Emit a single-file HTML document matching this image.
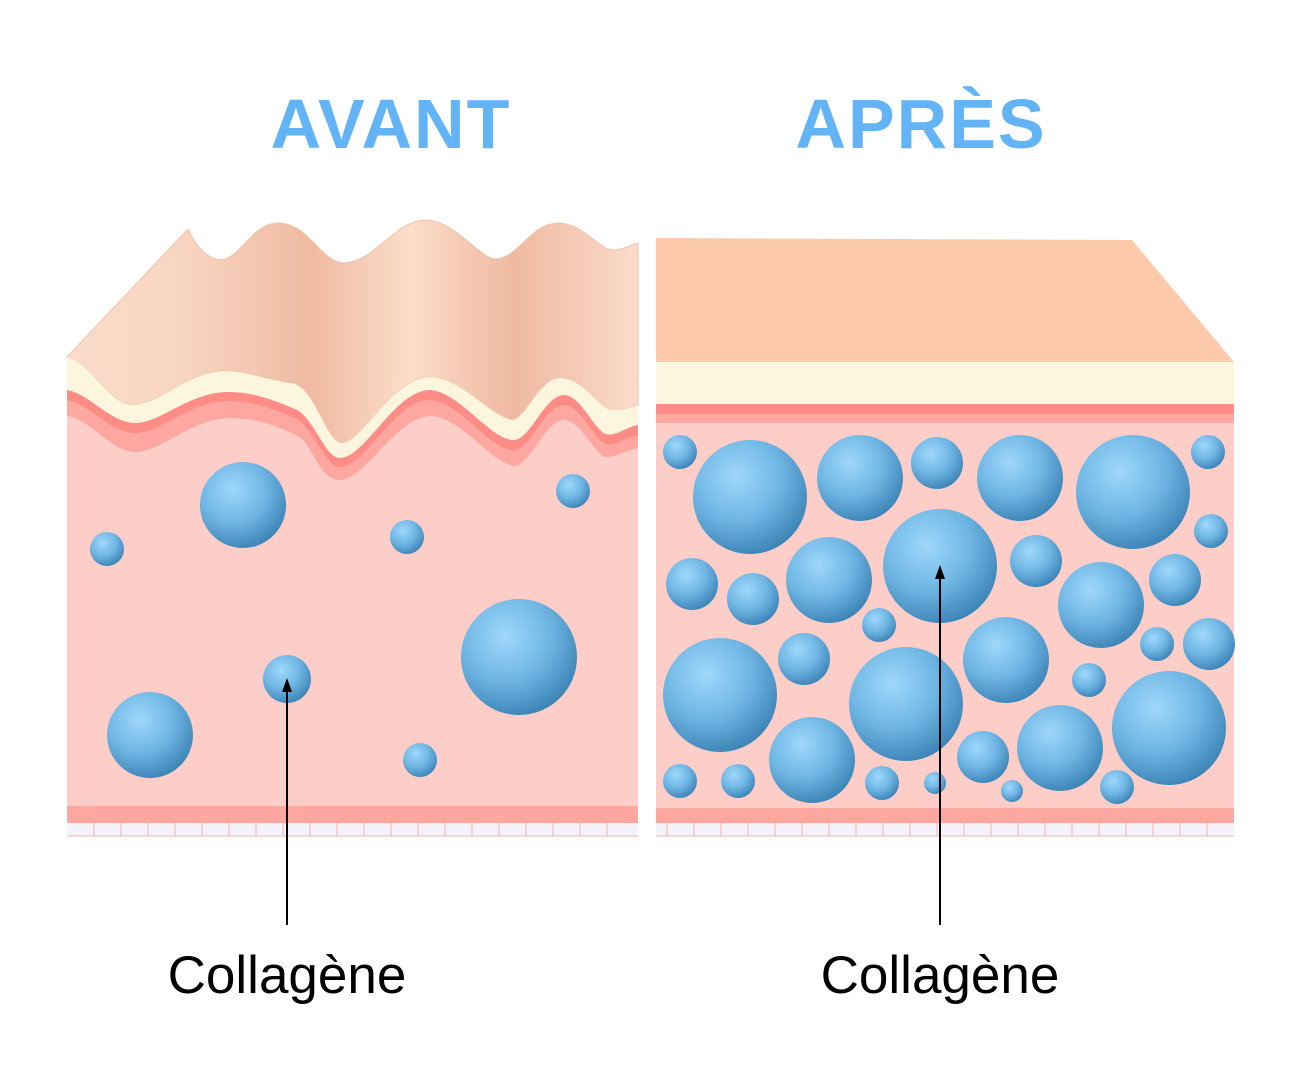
<!DOCTYPE html>
<html><head><meta charset="utf-8"><style>html,body{margin:0;padding:0;background:#fff}svg{display:block}</style></head><body>
<svg width="1300" height="1080" viewBox="0 0 1300 1080" xmlns="http://www.w3.org/2000/svg">
<defs>
<radialGradient id="b" cx="0.38" cy="0.32" r="0.7">
<stop offset="0" stop-color="#9fd8fb"/><stop offset="0.55" stop-color="#6fb6e4"/><stop offset="1" stop-color="#3e86b8"/>
</radialGradient>
<linearGradient id="skin" x1="0" x2="1" y1="0" y2="0">
<stop offset="0" stop-color="#fbdcca"/><stop offset="0.2" stop-color="#f8d5c2"/><stop offset="0.43" stop-color="#efbaa2"/><stop offset="0.6" stop-color="#fcddc9"/><stop offset="0.78" stop-color="#efb9a1"/><stop offset="1" stop-color="#fbdccb"/>
</linearGradient>
</defs>
<text x="391" y="148" text-anchor="middle" font-family="Liberation Sans, sans-serif" font-weight="bold" font-size="70" letter-spacing="2" fill="#63b3f7">AVANT</text>
<text x="921" y="148" text-anchor="middle" font-family="Liberation Sans, sans-serif" font-weight="bold" font-size="70" letter-spacing="2" fill="#63b3f7">APRÈS</text>

<!-- LEFT -->
<rect x="67" y="380" width="571" height="456" fill="#fdcdc8"/>
<path d="M67,357 L188,229 C200,255 215,262 226,259 C245,250 255,222 279,223 C310,224 320,262 344,263 C375,262 395,220 426,220 C455,221 480,258 495,259 C520,258 530,222 560,223 C585,224 600,252 615,250 C625,249 630,245 638,243 L638,405 C625,410 612,412 606,408 C590,395 578,378 560,378 C540,378 525,420 512,420 C490,416 460,377 430,377 C390,380 362,443 342,443 C325,443 315,383 289,383 C260,378 245,371 224,371 C185,373 160,405 132,405 C110,405 90,362 67,357 Z" fill="url(#skin)" stroke="#f3c3a8" stroke-width="1"/>
<path d="M67,357 C90,362 110,405 132,405 C160,405 185,373 224,371 C245,371 260,378 289,383 C315,383 325,443 342,443 C362,443 390,380 430,377 C460,377 490,416 512,420 C525,420 540,378 560,378 C578,378 590,395 606,408 C612,412 625,410 638,405 L638,445 C625,447 612,440 602,432 C588,418 578,400 564,400 C545,400 530,445 514,445 C490,440 460,392 430,392 C395,395 365,470 340,470 C318,470 310,412 297,412 C270,398 250,396 228,396 C190,398 160,440 136,440 C110,440 90,400 67,396 Z" fill="#fdf6df"/>
<path d="M67,390 C90,394 110,423 136,423 C160,423 190,392 228,392 C250,392 270,398 297,410 C315,420 325,458 340,458 C365,458 395,390 430,390 C460,392 490,440 514,440 C530,440 545,395 564,395 C578,395 588,418 602,432 C612,440 625,427 638,425 L638,445 C625,447 612,452 602,448 C588,434 578,412 564,412 C545,412 530,458 514,458 C490,455 460,408 430,408 C395,410 365,472 340,472 C318,472 310,430 297,428 C270,414 250,410 228,410 C190,412 160,442 136,442 C110,442 90,410 67,408 Z" fill="#fd8b86"/>
<path d="M67,400 C90,404 110,433 136,433 C160,433 190,401 228,401 C250,401 270,407 297,419 C315,430 325,467 340,467 C365,467 395,400 430,400 C460,402 490,450 514,450 C530,450 545,405 564,405 C578,405 588,428 602,442 C612,450 625,437 638,435 L638,448 C625,450 612,460 602,456 C588,442 578,420 564,420 C545,420 530,466 514,466 C490,462 460,416 430,416 C395,418 365,480 340,480 C318,480 310,438 297,436 C270,422 250,418 228,418 C190,420 160,452 136,452 C110,452 90,418 67,416 Z" fill="#fea6a0"/>
<rect x="67" y="806" width="571" height="17" fill="#fea6a0"/>
<rect x="67" y="823" width="571" height="13" fill="#f4f2fb"/>
<line x1="67" y1="836" x2="638" y2="836" stroke="#f7b3a8"/>

<!-- RIGHT -->
<path d="M656,238 L1132,240 L1234,362 L656,362 Z" fill="#fccaab"/>
<rect x="656" y="362" width="578" height="42" fill="#fef7df"/>
<rect x="656" y="404" width="578" height="10" fill="#fd8b86"/>
<rect x="656" y="414" width="578" height="9" fill="#fea6a0"/>
<rect x="656" y="423" width="578" height="385" fill="#fdcdc8"/>
<rect x="656" y="808" width="578" height="15" fill="#fea6a0"/>
<rect x="656" y="823" width="578" height="13" fill="#f4f2fb"/>
<line x1="656" y1="836" x2="1234" y2="836" stroke="#f7b3a8"/>

<g stroke="#f7b3a8" stroke-width="1">
<path d="M94,823v13M121,823v13M148,823v13M175,823v13M202,823v13M229,823v13M256,823v13M283,823v13M310,823v13M337,823v13M364,823v13M391,823v13M418,823v13M445,823v13M472,823v13M499,823v13M526,823v13M553,823v13M580,823v13M607,823v13"/>
<path d="M667,823v13M694,823v13M721,823v13M748,823v13M775,823v13M802,823v13M829,823v13M856,823v13M883,823v13M910,823v13M937,823v13M964,823v13M991,823v13M1018,823v13M1045,823v13M1072,823v13M1099,823v13M1126,823v13M1153,823v13M1180,823v13M1207,823v13"/>
</g>

<g fill="url(#b)">
<circle cx="243" cy="505" r="43"/><circle cx="107" cy="549" r="17"/><circle cx="407" cy="537" r="17"/><circle cx="573" cy="491" r="17"/><circle cx="519" cy="657" r="58"/><circle cx="287" cy="679" r="24"/><circle cx="150" cy="735" r="43"/><circle cx="420" cy="760" r="17"/>
<circle cx="680" cy="452" r="17"/><circle cx="750" cy="497" r="57"/><circle cx="860" cy="478" r="43"/><circle cx="937" cy="463" r="26"/><circle cx="1020" cy="478" r="43"/><circle cx="1133" cy="492" r="57"/><circle cx="1208" cy="452" r="17"/><circle cx="1211" cy="531" r="17"/><circle cx="692" cy="584" r="26"/><circle cx="753" cy="599" r="26"/><circle cx="829" cy="580" r="43"/><circle cx="940" cy="566" r="57"/><circle cx="1036" cy="561" r="26"/><circle cx="1101" cy="605" r="43"/><circle cx="1175" cy="580" r="26"/><circle cx="879" cy="625" r="17"/><circle cx="804" cy="659" r="26"/><circle cx="720" cy="695" r="57"/><circle cx="1006" cy="660" r="43"/><circle cx="1157" cy="644" r="17"/><circle cx="1209" cy="644" r="26"/><circle cx="906" cy="704" r="57"/><circle cx="1089" cy="680" r="17"/><circle cx="812" cy="760" r="43"/><circle cx="983" cy="757" r="26"/><circle cx="1060" cy="748" r="43"/><circle cx="1169" cy="728" r="57"/><circle cx="680" cy="781" r="17"/><circle cx="738" cy="781" r="17"/><circle cx="882" cy="783" r="17"/><circle cx="935" cy="783" r="11"/><circle cx="1012" cy="791" r="11"/><circle cx="1117" cy="787" r="17"/>
</g>

<line x1="287" y1="925" x2="287" y2="688" stroke="#000" stroke-width="2"/>
<polygon points="287,678 282,692 292,692" fill="#000"/>
<line x1="940" y1="925" x2="940" y2="575" stroke="#000" stroke-width="2"/>
<polygon points="940,565 935,579 945,579" fill="#000"/>
<text x="287" y="993" text-anchor="middle" font-family="Liberation Sans, sans-serif" font-size="53" fill="#000">Collagène</text>
<text x="940" y="993" text-anchor="middle" font-family="Liberation Sans, sans-serif" font-size="53" fill="#000">Collagène</text>
</svg>
</body></html>
